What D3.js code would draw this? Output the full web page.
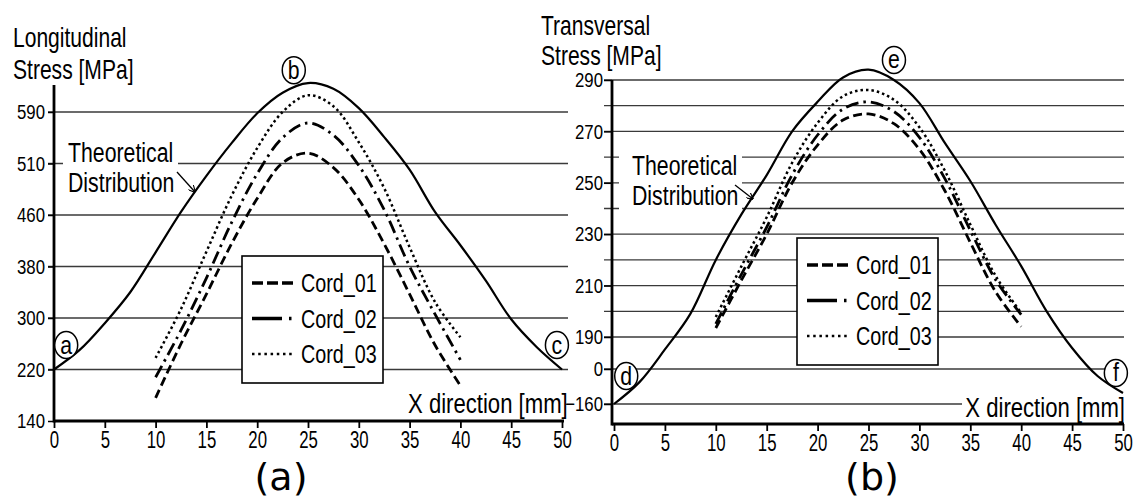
<!DOCTYPE html>
<html>
<head>
<meta charset="utf-8">
<script src="https://cdn.jsdelivr.net/npm/d3@7"></script>
<style>
  body { margin: 0; background: #fff; }
  text { font-family: "Liberation Sans", Arial, sans-serif; fill: #000; }
</style>
</head>
<body>
<script>
// ---- data ----
var xTicks = [0, 5, 10, 15, 20, 25, 30, 35, 40, 45, 50];
var theoX = [0, 2.5, 5, 7.5, 10, 12.5, 15, 17.5, 20, 22.5, 25, 27.5, 30, 32.5, 35, 37.5, 40, 42.5, 45, 47.5, 50];
var cordX = [10, 12.5, 15, 17.5, 20, 22.5, 25, 27.5, 30, 32.5, 35, 37.5, 40];

// (a) longitudinal stress, MPa
var longTicks = [140, 220, 300, 380, 460, 510, 590];
var longTheo = [220, 250, 292, 340, 402, 463, 498, 542, 588, 620, 635, 626, 596, 551, 504, 463, 413, 358, 298, 255, 220];
var longCord01 = [176, 260, 337, 416, 476, 511, 526, 506, 475, 415, 337, 258, 195];
var longCord02 = [208, 281, 362, 449, 500, 550, 573, 554, 508, 465, 380, 306, 235];
var longCord03 = [238, 314, 403, 479, 534, 590, 616, 599, 543, 486, 410, 325, 270];

// (b) transversal stress, MPa
var transTicks = [-160, 0, 190, 210, 230, 250, 270, 290];
var transGrid = [-160, 0, 190, 200, 210, 220, 230, 240, 250, 260, 270, 280, 290];
var transTheo = [-160, -60, 116, 199, 220, 237.6, 253, 270, 281.5, 291, 294, 290, 281, 265.5, 250.7, 233.6, 217.6, 200, 125, -32, -110];
var transCord01 = [193.5, 212, 230, 250, 264.7, 274.4, 276.8, 273, 263, 246.9, 226.8, 207.5, 194];
var transCord02 = [195.1, 214.3, 232.7, 253.1, 268.6, 278.7, 281.5, 277.7, 267.7, 251.6, 231.5, 212.2, 198.7];
var transCord03 = [197.8, 217.4, 236.6, 257.8, 273.3, 283.7, 286.1, 282.3, 271.6, 254.7, 233.8, 213.7, 199.4];

var cordNames = ["Cord_01", "Cord_02", "Cord_03"];
var cordDash = ["9,4.5", "13,5,2.5,5", "2.5,3"];
var legendDash = ["11,4", "30,7,2.5,60", "2.5,3.7"];

var svg = d3.select("body").append("svg")
    .attr("width", 1136)
    .attr("height", 504);

// narrow the glyphs horizontally (the figure uses a condensed face)
function squish(sel, k) {
  sel.each(function() {
    var t = d3.select(this);
    var x0 = +(t.attr("x") || 0), y0 = +(t.attr("y") || 0);
    t.attr("x", 0).attr("y", 0)
      .attr("transform", "translate(" + x0 + "," + y0 + ") scale(" + k + ",1)");
  });
  return sel;
}

function addText(g, str, x, y, size, k, anchor) {
  var t = g.append("text")
      .attr("x", x).attr("y", y)
      .attr("font-size", size)
      .attr("text-anchor", anchor || "start")
      .text(str);
  return squish(t, k);
}

function drawPanel(p) {
  var g = svg.append("g");
  var x = p.x, y = p.y;

  // gridlines
  g.selectAll(".grid")
    .data(p.grid)
    .join("line")
    .attr("class", "grid")
    .attr("x1", p.gridX[0]).attr("x2", p.gridX[1])
    .attr("y1", function(d) { return y(d); })
    .attr("y2", function(d) { return y(d); })
    .attr("stroke", "#3a3a3a")
    .attr("stroke-width", 1.3);

  // white boxes behind annotations
  p.blanks.forEach(function(b) {
    g.append("rect").attr("x", b[0]).attr("y", b[1]).attr("width", b[2]).attr("height", b[3]).attr("fill", "#fff");
  });

  // y ticks + labels
  var ya = g.append("g").attr("transform", "translate(" + p.axisX + ",0)")
      .call(d3.axisLeft(y).tickValues(p.ticks).tickSize(p.tickLen).tickPadding(p.tickPad));
  ya.select(".domain").remove();
  ya.selectAll("line").attr("stroke", "#000").attr("stroke-width", 1.5);
  ya.selectAll("text").attr("font-size", 21).attr("font-family", "Liberation Sans, Arial, sans-serif")
    .attr("fill", "#000").call(squish, 0.8);

  // x ticks + labels
  var xa = g.append("g").attr("transform", "translate(0," + p.axisY + ")")
      .call(d3.axisBottom(x).tickValues(xTicks).tickSize(7).tickSizeOuter(0).tickPadding(3));
  xa.select(".domain").remove();
  xa.selectAll("line").attr("stroke", "#000").attr("stroke-width", 1.8);
  xa.selectAll("text").attr("font-size", 24).attr("font-family", "Liberation Sans, Arial, sans-serif")
    .attr("fill", "#000").call(squish, 0.7);

  // axis lines
  g.append("line").attr("x1", p.axisX).attr("x2", p.axisX).attr("y1", p.axisTop).attr("y2", p.axisY + 1.4)
    .attr("stroke", "#000").attr("stroke-width", 2.8);
  g.append("line").attr("x1", p.axisX).attr("x2", p.axisRight).attr("y1", p.axisY).attr("y2", p.axisY)
    .attr("stroke", "#000").attr("stroke-width", 2.8);

  var line = d3.line()
      .x(function(d) { return x(d[0]); })
      .y(function(d) { return y(d[1]); })
      .curve(d3.curveCatmullRom.alpha(0.5));

  g.append("path")
    .attr("d", line(d3.zip(theoX, p.theo)))
    .attr("fill", "none").attr("stroke", "#000").attr("stroke-width", 2.2);

  p.cords.forEach(function(vals, i) {
    g.append("path")
      .attr("d", line(d3.zip(cordX, vals)))
      .attr("fill", "none").attr("stroke", "#000")
      .attr("stroke-width", i === 2 ? 2.5 : 2.8)
      .attr("stroke-dasharray", cordDash[i]);
  });

  // legend
  var lg = g.append("g").attr("transform", "translate(" + p.legend[0] + "," + p.legend[1] + ")");
  lg.append("rect").attr("width", 141).attr("height", 127)
    .attr("fill", "#fff").attr("stroke", "#000").attr("stroke-width", 1.6);
  cordNames.forEach(function(name, i) {
    var cy = 27 + i * 35.5;
    lg.append("line").attr("x1", 10).attr("x2", 51).attr("y1", cy).attr("y2", cy)
      .attr("stroke", "#000").attr("stroke-width", i === 2 ? 2.6 : 3.4)
      .attr("stroke-dasharray", legendDash[i]);
    addText(lg, name, 59, cy + 9, 25, 0.79);
  });

  // theoretical distribution note
  addText(g, "Theoretical", p.note[0], p.note[1], 28, 0.76);
  addText(g, "Distribution", p.note[0], p.note[1] + 30, 28, 0.76);
  g.append("line")
    .attr("x1", p.arrow[0]).attr("y1", p.arrow[1]).attr("x2", p.arrow[2]).attr("y2", p.arrow[3])
    .attr("stroke", "#000").attr("stroke-width", 1.3)
    .attr("marker-end", "url(#tip)");

  // axis titles
  addText(g, p.title[0], p.titleX, p.titleY[0], 27, 0.78);
  addText(g, p.title[1], p.titleX, p.titleY[1], 27, 0.78);
  addText(g, "X direction [mm]", p.xlab[0], p.xlab[1], 28, 0.79, p.xlab[2]);

  // circled points
  p.marks.forEach(function(m) {
    var cx = x(m[1]), cy = y(m[2]);
    g.append("ellipse").attr("cx", cx).attr("cy", cy).attr("rx", 11.5).attr("ry", 13.5)
      .attr("fill", "#fff").attr("stroke", "#000").attr("stroke-width", 1.5);
    addText(g, m[0], cx, cy + 8.5, 25, 0.85, "middle");
  });

  g.append("text")
    .attr("x", p.caption[0]).attr("y", 490)
    .attr("text-anchor", "middle")
    .attr("font-size", 38)
    .style("font-family", "DejaVu Sans, sans-serif")
    .text(p.caption[1]);
}

svg.append("defs").append("marker")
    .attr("id", "tip")
    .attr("viewBox", "0 0 10 10")
    .attr("refX", 9).attr("refY", 5)
    .attr("markerWidth", 7).attr("markerHeight", 7)
    .attr("markerUnits", "userSpaceOnUse")
    .attr("orient", "auto")
  .append("path")
    .attr("d", "M0,0 L10,5 L0,10")
    .attr("fill", "none").attr("stroke", "#000").attr("stroke-width", 1.6);

// (a)
var xL = d3.scaleLinear().domain([0, 50]).range([54, 562]);
var yL = d3.scaleLinear().domain(longTicks)
    .range(longTicks.map(function(d, i) { return 421 - i * 51.5; }));

drawPanel({
  x: xL, y: yL,
  grid: longTicks.slice(1), gridX: [48, 568], ticks: longTicks,
  tickLen: 6, tickPad: 3,
  axisX: 54, axisY: 421, axisTop: 85, axisRight: 564,
  theo: longTheo, cords: [longCord01, longCord02, longCord03],
  blanks: [[63, 132, 115, 68]],
  legend: [242, 256],
  note: [68, 162], arrow: [177, 172, 195, 192],
  title: ["Longitudinal", "Stress [MPa]"], titleX: 13, titleY: [47, 79],
  xlab: [408, 413, "start"],
  marks: [["a", 1.2, 258], ["b", 23.6, 655], ["c", 49.5, 258]],
  caption: [281, "(a)"]
});

// (b)
var xR = d3.scaleLinear().domain([0, 50]).range([614, 1123]);
var yR = d3.scaleLinear().domain([-160, 0, 190, 290]).range([404, 369, 337, 80]);

drawPanel({
  x: xR, y: yR,
  grid: transGrid, gridX: [604, 1124], ticks: transTicks,
  tickLen: 8, tickPad: 1,
  axisX: 612, axisY: 424, axisTop: 80, axisRight: 1124,
  theo: transTheo, cords: [transCord01, transCord02, transCord03],
  blanks: [[619, 145, 123, 68], [962, 396, 164, 25]],
  legend: [797, 238],
  note: [632, 175], arrow: [735, 185, 753, 199],
  title: ["Transversal", "Stress [MPa]"], titleX: 541, titleY: [35, 65],
  xlab: [1125, 417, "end"],
  marks: [["d", 1.2, -32], ["e", 27.5, 297.8], ["f", 49.3, -18]],
  caption: [872, "(b)"]
});
</script>
</body>
</html>
